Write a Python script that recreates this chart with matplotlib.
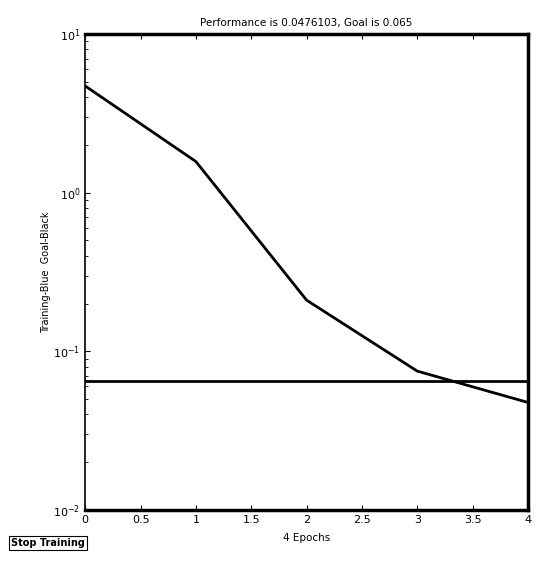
import numpy as np
import matplotlib.pyplot as plt

# training record
epochs = [0, 1, 2, 3, 4]
perf = [4.7, 1.57, 0.21, 0.075, 0.0476]
goal = 0.065
xticks = [0, 0.5, 1, 1.5, 2, 2.5, 3, 3.5, 4]
xticklabels = ['0', '0.5', '1', '1.5', '2', '2.5', '3', '3.5', '4']

fig = plt.figure(figsize=(5.36, 5.66), dpi=100)
ax = fig.add_axes([0.159, 0.099, 0.826, 0.841])

ax.semilogy(epochs, perf, color='black', lw=2)
ax.axhline(goal, color='black', lw=2)

ax.set_xlim(0, 4)
ax.set_ylim(1e-2, 1e1)
ax.set_xticks(xticks)
ax.set_xticklabels(xticklabels)
ax.tick_params(direction='in', which='both', labelsize=8, top=True, right=False)
for s in ['top', 'bottom', 'right']:
    ax.spines[s].set_linewidth(2.5)
ax.spines['left'].set_linewidth(1.2)

ax.set_title('Performance is 0.0476103, Goal is 0.065', fontsize=7.5, pad=6)
ax.set_xlabel('4 Epochs', fontsize=7.5, labelpad=6)
ax.set_ylabel('Training-Blue  Goal-Black', fontsize=7, labelpad=2)

fig.text(0.02, 0.035, 'Stop Training', fontsize=7, fontweight='bold',
         bbox=dict(facecolor='white', edgecolor='black', lw=0.8, pad=1.5))

plt.savefig('out.png', dpi=100)
